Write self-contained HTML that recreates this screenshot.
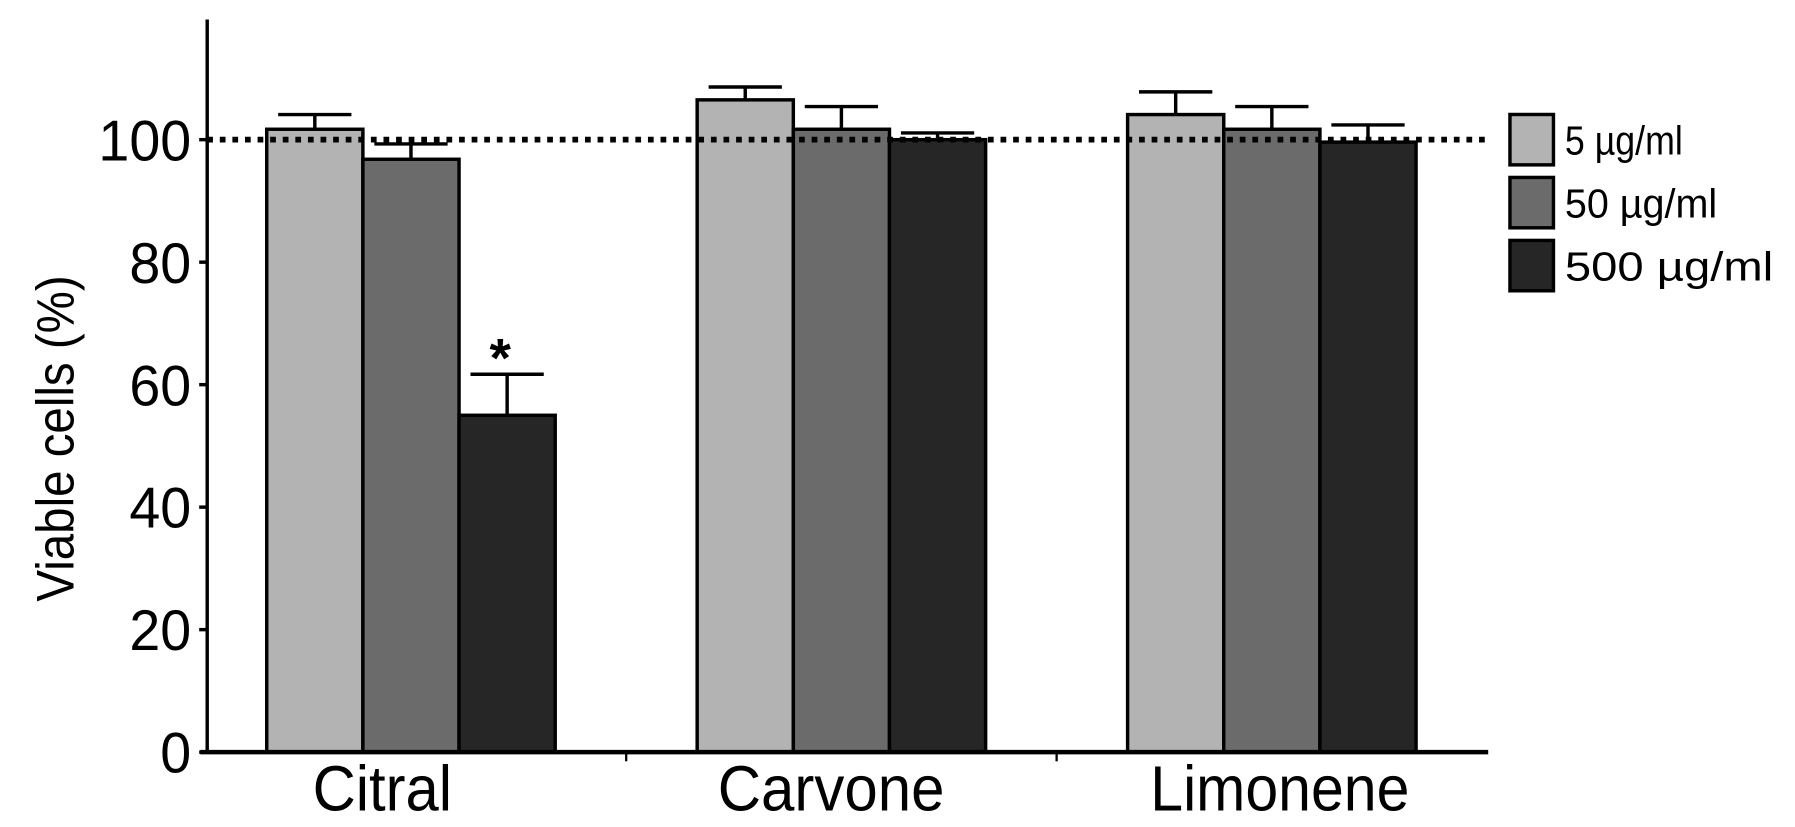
<!DOCTYPE html>
<html><head><meta charset="utf-8"><style>
html,body{margin:0;padding:0;background:#fff;}
svg{display:block;}
text{font-family:"Liberation Sans",sans-serif;fill:#000;}
</style></head><body>
<svg id="chart" width="1795" height="827" viewBox="0 0 1568 722.4" preserveAspectRatio="none" xmlns="http://www.w3.org/2000/svg">
<g id="plot"></g>
</svg>
<script>
const categories = ["Citral", "Carvone", "Limonene"];
const seriesNames = ["5 µg/ml", "50 µg/ml", "500 µg/ml"];
const s5 = [101.7, 106.5, 104.1];
const s50 = [96.8, 101.7, 101.7];
const s500 = [55, 100, 99.6];
const e5 = [2.4, 2.1, 3.7];
const e50 = [2.5, 3.7, 3.7];
const e500 = [6.7, 1.1, 2.8];
const yTicks = [0, 20, 40, 60, 80, 100];
const significance = ["*", "", ""];

const NS = "http://www.w3.org/2000/svg";
const g = document.getElementById("plot");
const colors = ["#b3b3b3", "#6b6b6b", "#262626"];
const series = [s5, s50, s500];
const errs = [e5, e50, e500];
const x0 = 181, y0 = 657, pxPerUnit = 5.35, bandW = 376, bandStart = 171, barW = 84;
function yS(v){ return y0 - v * pxPerUnit; }
function xC(i){ return bandStart + bandW * i + bandW / 2; }
function mk(tag, attrs){ const e = document.createElementNS(NS, tag); for (const k in attrs) e.setAttribute(k, attrs[k]); g.appendChild(e); return e; }

categories.forEach((c, i) => {
  series.forEach((s, j) => {
    const x = xC(i) + (j - 1.5) * barW;
    const bar = mk("rect", {x: x, y: yS(s[i]), width: barW, height: y0 - yS(s[i]), fill: colors[j], stroke: "#000", "stroke-width": 3});
    
    
    const cx = x + barW / 2, top = yS(s[i] + errs[j][i]);
    const eb = mk("path", {d: `M${cx},${yS(s[i])}V${top}M${cx - 32},${top}H${cx + 32}`, stroke: "#000", "stroke-width": 3, fill: "none"});
    
    
  });
  if (significance[i]) {
    const x = xC(i) + 0.5 * barW + barW / 2;
    const t = mk("text", {x: x - 6, y: yS(series[2][i] + errs[2][i]) + 2, "text-anchor": "middle", "font-size": 48, "font-weight": "bold"});
    t.textContent = significance[i];
    
    
  }
  const w = c.length * (c === "Citral" ? 20.3 : 28.3);
  const cx = xC(i) - 25 + 16 * i;
  const lbl = mk("text", {x: cx - w / 2, y: 708, "font-size": 56, textLength: w, lengthAdjust: "spacingAndGlyphs"});
  lbl.textContent = c;
  
  
});

const ref = mk("line", {x1: x0, x2: 1298, y1: yS(100), y2: yS(100), stroke: "#000", "stroke-width": 5, "stroke-dasharray": "5 6"});



const yAxis = mk("line", {x1: x0, x2: x0, y1: 17, y2: y0, stroke: "#000", "stroke-width": 3});


const xAxis = mk("line", {x1: x0 - 6, x2: 1300, y1: y0, y2: y0, stroke: "#000", "stroke-width": 4});


[1, 2].forEach(i => {
  const t = mk("line", {x1: bandStart + bandW * i, x2: bandStart + bandW * i, y1: y0, y2: y0 + 8, stroke: "#000", "stroke-width": 2});
  
  
});
yTicks.forEach(v => {
  const t = mk("line", {x1: x0 - 7, x2: x0, y1: yS(v), y2: yS(v), stroke: "#000", "stroke-width": 3});
  
  
  const str = String(v);
  const w = str.length * 27;
  const l = mk("text", {x: x0 - 14 - w, y: yS(v) + 18, "font-size": 50, textLength: w, lengthAdjust: "spacingAndGlyphs"});
  l.textContent = str;
  
  
});
const yt = mk("text", {x: -285 / 2, y: 0, "font-size": 46, textLength: 285, lengthAdjust: "spacingAndGlyphs", transform: "translate(64,383) rotate(-90)"});
yt.textContent = "Viable cells (%)";



const legendLens = [103, 133, 182];
seriesNames.forEach((n, j) => {
  const y = 100 + j * 55;
  const r = mk("rect", {x: 1319, y: y, width: 38, height: 44, fill: colors[j], stroke: "#000", "stroke-width": 3});
  
  
  const t = mk("text", {x: 1367, y: y + 35, "font-size": 36, textLength: legendLens[j], lengthAdjust: "spacingAndGlyphs"});
  t.textContent = n;
  
  
});
</script>
</body></html>
